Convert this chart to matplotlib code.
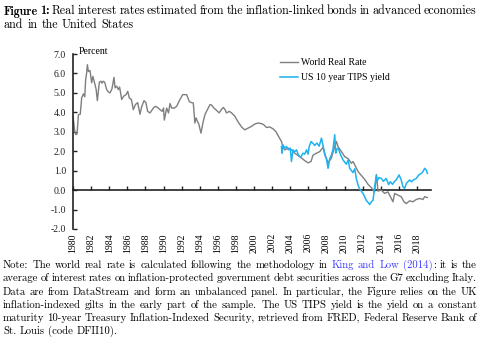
import numpy as np
import matplotlib
matplotlib.use("Agg")
import matplotlib.pyplot as plt

#================= Data =================

world_years = [1980.0, 1980.2, 1980.33, 1980.45, 1980.6, 1980.8, 1980.96, 1981.15, 1981.3, 1981.4,
               1981.5, 1981.59, 1981.7, 1981.88, 1982.06, 1982.2, 1982.43, 1982.55, 1982.69, 1982.91,
               1983.1, 1983.2, 1983.35, 1983.5, 1983.72, 1983.9, 1984.09, 1984.3, 1984.53, 1984.65,
               1984.83, 1985.0, 1985.15, 1985.38, 1985.6, 1985.86, 1986.05, 1986.22, 1986.45, 1986.66,
               1986.9, 1987.15, 1987.4, 1987.6, 1987.85, 1988.05, 1988.25, 1988.51, 1988.88, 1989.1,
               1989.35, 1989.61, 1989.85, 1990.0, 1990.09, 1990.35, 1990.55, 1990.72, 1990.9, 1991.2,
               1991.45, 1991.82, 1992.12, 1992.56, 1992.85, 1993.1, 1993.29, 1993.47, 1993.6, 1993.74,
               1993.9, 1994.14, 1994.35, 1994.59, 1994.94, 1995.14, 1995.3, 1995.57, 1995.86, 1996.15,
               1996.4, 1996.61, 1996.8, 1996.97, 1997.27, 1997.52, 1997.88, 1998.25, 1998.62, 1998.98,
               1999.35, 1999.72, 2000.09, 2000.46, 2000.83, 2001.08, 2001.38, 2001.74, 2002.1, 2002.4,
               2002.66, 2002.85, 2003.03, 2003.2, 2003.4, 2003.77, 2004.14, 2004.5, 2005.05, 2005.6,
               2005.97, 2006.3, 2006.52, 2006.9, 2007.26, 2007.63, 2007.9, 2008.18, 2008.55, 2008.92,
               2009.1, 2009.28, 2009.66, 2010.02, 2010.4, 2010.76, 2010.94, 2011.13, 2011.5, 2011.87,
               2012.23, 2012.6, 2012.97, 2013.33, 2013.52, 2013.7, 2014.07, 2014.43, 2014.8, 2015.17,
               2015.35, 2015.54, 2015.9, 2016.27, 2016.57, 2016.83, 2017.2, 2017.56, 2017.93, 2018.3,
               2018.67, 2018.85, 2019.15]
world_rate = [3.8, 3.0, 2.85, 2.9, 3.88, 3.9, 4.74, 4.95, 4.8, 5.69,
              6.0, 6.45, 6.1, 6.15, 5.52, 5.85, 5.43, 5.2, 4.6, 5.55,
              5.6, 5.5, 5.6, 5.55, 5.17, 5.05, 5.0, 5.2, 5.8, 5.26,
              5.35, 5.17, 5.3, 4.66, 4.83, 4.91, 5.08, 4.74, 4.66, 4.14,
              4.4, 4.5, 3.9, 4.31, 4.6, 4.5, 4.05, 3.97, 4.22, 4.31,
              4.25, 4.14, 4.05, 4.22, 3.6, 4.22, 3.97, 4.45, 4.22, 4.22,
              4.31, 4.66, 4.91, 4.91, 4.55, 4.5, 4.48, 3.45, 3.71, 3.55,
              3.4, 2.93, 3.45, 3.9, 4.22, 4.4, 4.38, 4.22, 4.1, 3.97,
              4.15, 4.25, 4.14, 3.97, 4.05, 3.97, 3.8, 3.5, 3.25, 3.1,
              3.19, 3.28, 3.4, 3.45, 3.42, 3.36, 3.22, 3.25, 3.15, 3.02,
              2.8, 2.65, 2.5, 2.2, 2.07, 2.16, 2.07, 1.9, 1.72, 1.52,
              1.4, 1.47, 1.8, 1.9, 1.98, 2.2, 1.75, 1.4, 1.65, 2.24,
              2.5, 2.24, 1.98, 1.72, 1.62, 1.38, 1.47, 1.3, 0.95, 0.75,
              0.55, 0.3, 0.12, -0.09, 0.8, -0.05, 0.0, -0.17, -0.09, -0.43,
              -0.6, -0.17, -0.26, -0.34, -0.6, -0.69, -0.55, -0.6, -0.48, -0.43,
              -0.48, -0.34, -0.38]

tips_years = [2003.03, 2003.1, 2003.2, 2003.4, 2003.6, 2003.8, 2004.0, 2004.14, 2004.3, 2004.5,
              2004.7, 2004.9, 2005.05, 2005.2, 2005.4, 2005.6, 2005.8, 2005.97, 2006.1, 2006.3,
              2006.5, 2006.7, 2006.95, 2007.2, 2007.45, 2007.6, 2007.8, 2008.0, 2008.18, 2008.36,
              2008.55, 2008.73, 2008.92, 2009.03, 2009.15, 2009.3, 2009.57, 2009.84, 2010.2, 2010.4,
              2010.57, 2010.94, 2011.13, 2011.3, 2011.5, 2011.68, 2012.05, 2012.4, 2012.78, 2012.97,
              2013.15, 2013.33, 2013.52, 2013.6, 2013.8, 2014.07, 2014.3, 2014.6, 2014.88, 2015.06,
              2015.3, 2015.54, 2015.7, 2016.03, 2016.27, 2016.45, 2016.64, 2016.83, 2017.0, 2017.2,
              2017.4, 2017.6, 2017.93, 2018.2, 2018.5, 2018.67, 2018.85, 2019.04, 2019.15]
tips_yield = [2.24, 1.9, 2.33, 2.16, 2.24, 2.07, 2.16, 1.47, 2.07, 1.98,
              2.07, 1.81, 1.72, 1.72, 1.9, 1.85, 2.07, 1.85, 2.24, 2.5,
              2.41, 2.3, 2.42, 2.26, 2.67, 2.36, 1.85, 1.6, 1.12, 1.6,
              1.8, 2.1, 2.85, 1.9, 2.1, 2.16, 1.81, 1.55, 1.33, 1.55,
              1.12, 0.9, 1.1, 0.6, 0.26, 0.05, -0.17, -0.52, -0.74, -0.6,
              -0.52, 0.17, 0.75, 0.45, 0.65, 0.6, 0.45, 0.6, 0.28, 0.43,
              0.3, 0.45, 0.52, 0.78, 0.52, 0.17, 0.09, 0.34, 0.43, 0.52,
              0.43, 0.52, 0.6, 0.78, 0.86, 0.95, 1.12, 1.03, 0.86]

year_ticks = list(range(1980, 2019, 2))
y_ticks = [7.0, 6.0, 5.0, 4.0, 3.0, 2.0, 1.0, 0.0, -1.0, -2.0]
y_labels = ["7.0", "6.0", "5.0", "4.0", "3.0", "2.0", "1.0", "0.0", "-1.0", "-2.0"]

title_line1 = "Real interest rates estimated from the inflation-linked bonds in advanced economies"
title_line2 = "and in the United States"

note_lines = [
    "Note: The world real rate is calculated following the methodology in King and Low (2014): it is the",
    "average of interest rates on inflation-protected government debt securities across the G7 excluding Italy.",
    "Data are from DataStream and form an unbalanced panel. In particular, the Figure relies on the UK",
    "inflation-indexed gilts in the early part of the sample. The US TIPS yield is the yield on a constant",
    "maturity 10-year Treasury Inflation-Indexed Security, retrieved from FRED, Federal Reserve Bank of",
    "St. Louis (code DFII10).",
]
# words of the first note line that are the blue citation link
link_words = [11, 12, 13, 14]

#================= Figure =================

W, H = 480, 339
fig = plt.figure(figsize=(W / 100, H / 100), dpi=100)
fig.patch.set_facecolor("white")

tick_font = "Liberation Serif"
x_left, x_right = 73, 430.5
y_top, y_bot = 54, 229
ax = fig.add_axes([x_left / W, 1 - y_bot / H, (x_right - x_left) / W, (y_bot - y_top) / H])

ax.plot(world_years, world_rate, color="#7f7f7f", lw=1.0, label="World Real Rate")
ax.plot(tips_years, tips_yield, color="#1eb2ee", lw=1.1, label="US 10 year TIPS yield")

ax.set_xlim(1980, 2019.5)
ax.set_ylim(-2, 7)

for side in ["top", "right", "bottom"]:
    ax.spines[side].set_visible(False)
ax.spines["left"].set_linewidth(1.2)
ax.spines["left"].set_color("#222222")

ax.set_yticks(y_ticks)
ax.set_yticklabels(y_labels, fontfamily=tick_font, fontsize=7)
ax.tick_params(axis="y", direction="in", length=3, width=1, pad=5, colors="#222222")

ax.set_xticks(year_ticks)
ax.set_xticklabels([str(y) for y in year_ticks], rotation=90, fontfamily=tick_font, fontsize=7)
ax.tick_params(axis="x", length=0, pad=3)

# zero line with the year ticks on it
zero_frac = (0 - (-2)) / (7 - (-2))
sec = ax.secondary_xaxis(zero_frac)
sec.set_xticks(year_ticks)
sec.set_xticklabels([])
sec.tick_params(axis="x", direction="in", length=3, width=1, colors="#222222")
sec.spines["bottom"].set_linewidth(1.2)
sec.spines["bottom"].set_color("#222222")

leg = ax.legend(loc="upper left", bbox_to_anchor=(0.579, 0.975), frameon=False,
                prop={"family": tick_font, "size": 7}, handlelength=1.9,
                handletextpad=0.25, labelspacing=0.6, borderpad=0, borderaxespad=0)

fig.text(79 / W, 1 - 51 / H, "Percent", fontfamily=tick_font, fontsize=7, va="center", ha="left")

#================= Caption and note (justified by words) =================

renderer = fig.canvas.get_renderer()


def measure(txt, family, size):
    t = fig.text(0, 0, txt, fontfamily=family, fontsize=size)
    w = t.get_window_extent(renderer).width
    t.remove()
    return w


def put_line(baseline, words, x0, x1, size, justify=True):
    # words: list of lists of (text, family, color)
    widths = [sum(measure(p[0], p[1], size) for p in w) for w in words]
    if justify and len(words) > 1:
        gap = (x1 - x0 - sum(widths)) / (len(words) - 1)
    else:
        gap = size * 100 / 72 * 0.33
    x = x0
    for w, ww in zip(words, widths):
        for txt, family, color in w:
            fig.text(x / W, 1 - baseline / H, txt, fontfamily=family, fontsize=size,
                     color=color, ha="left", va="baseline")
            x += measure(txt, family, size)
        x += gap


def plain_words(line, family="cmr10", color="black"):
    return [[(w, family, color)] for w in line.split()]


link_blue = "#3a3aff"
title_size = 8.65
line1 = [[("Figure", "cmb10", "black")], [("1:", "cmb10", "black")]] + plain_words(title_line1)
put_line(14.5, line1, 4, 476, title_size)
put_line(27.5, plain_words(title_line2), 4, 476, title_size, justify=False)

note_size = 7.75
note_base = [268, 281.3, 294.7, 308, 321.3, 334]
for i, line in enumerate(note_lines):
    words = []
    for j, w in enumerate(line.split()):
        if i == 0 and j in link_words and w.endswith(":"):
            words.append([(w[:-1], "cmr10", link_blue), (":", "cmr10", "black")])
        elif i == 0 and j in link_words:
            words.append([(w, "cmr10", link_blue)])
        else:
            words.append([(w, "cmr10", "black")])
    put_line(note_base[i], words, 3, 477, note_size, justify=(i < len(note_lines) - 1))

fig.savefig("out.png", dpi=100, facecolor="white")
